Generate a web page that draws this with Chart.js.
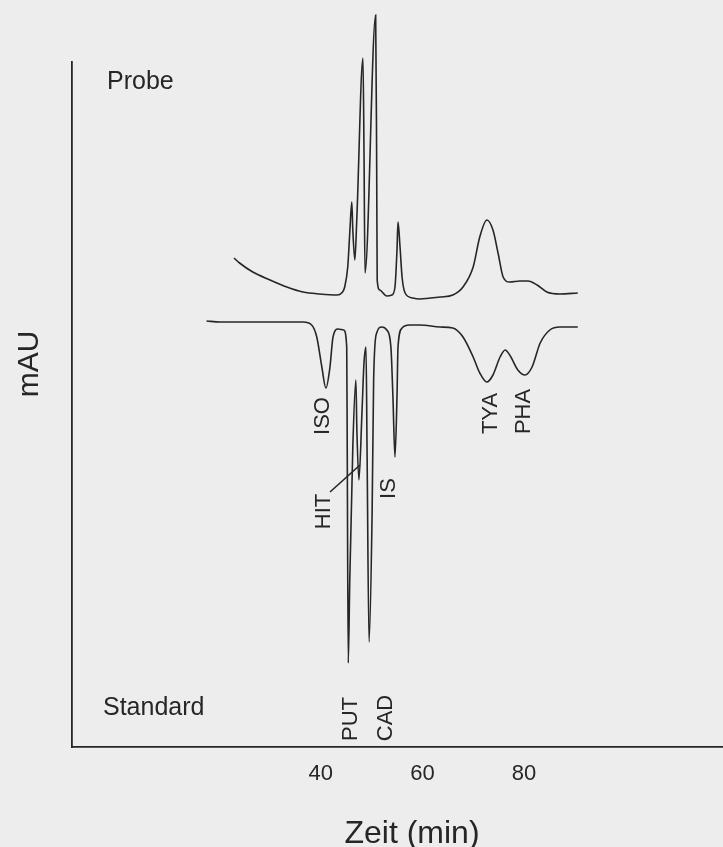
<!DOCTYPE html>
<html lang="de">
<head>
<meta charset="utf-8">
<title>Chromatogramm Probe / Standard</title>
<script src="https://cdn.jsdelivr.net/npm/chart.js@4.4.1/dist/chart.umd.min.js"></script>
<style>
  html, body { margin: 0; padding: 0; background: #ededed; }
  #grafico { display: block; }
</style>
</head>
<body>
<canvas id="grafico" width="723" height="847"></canvas>
<script>
const tiempoProbe = [22.9, 24.0, 26.6, 30.0, 33.3, 36.5, 39.8, 43.2, 44.1, 44.7, 45.3, 45.7, 46.1, 46.3, 46.7, 47.1, 48.3, 48.5, 48.7, 50.8, 51.0, 51.1, 51.6, 53.0, 54.0, 54.6, 55.0, 55.2, 55.6, 56.0, 56.6, 58.1, 59.5, 63.5, 66.0, 68.0, 70.0, 71.3, 72.7, 73.9, 74.9, 75.9, 77.2, 79.2, 80.8, 82.6, 84.5, 87.1, 90.6];
const valoresProbe = [97.8, 96.8, 95.0, 93.4, 92.0, 91.0, 90.6, 90.4, 90.8, 92.0, 96.0, 102.8, 109.0, 103.4, 97.4, 106.0, 137.8, 119.4, 94.8, 146.4, 116.0, 93.4, 91.4, 90.2, 90.4, 92.0, 99.4, 105.0, 100.0, 94.0, 90.8, 89.8, 89.6, 90.0, 90.4, 92.0, 96.0, 102.0, 105.4, 103.4, 98.8, 94.0, 93.0, 93.2, 93.2, 92.4, 91.0, 90.6, 90.8];

const tiempoStandard = [17.5, 20.1, 36.5, 38.2, 39.2, 40.2, 41.0, 41.8, 42.4, 43.4, 44.5, 45.1, 45.2, 45.4, 45.7, 46.3, 46.9, 47.1, 47.5, 48.1, 48.5, 48.9, 49.1, 49.5, 50.1, 50.4, 51.0, 52.0, 53.0, 53.8, 54.2, 54.6, 55.0, 55.2, 56.0, 57.5, 59.5, 63.5, 66.0, 68.0, 70.0, 71.3, 72.7, 73.9, 75.3, 76.3, 77.2, 78.8, 80.2, 81.6, 83.2, 85.1, 87.1, 90.6];
const valoresStandard = [85.2, 85.0, 85.0, 84.4, 82.0, 76.0, 71.8, 76.0, 82.0, 83.6, 83.4, 80.0, 60.0, 16.8, 33.4, 60.0, 73.4, 63.4, 53.4, 66.8, 76.8, 80.0, 60.0, 21.0, 46.8, 73.4, 82.8, 84.0, 83.4, 80.0, 70.0, 58.0, 70.0, 80.0, 83.8, 84.4, 84.4, 84.0, 83.8, 82.0, 78.0, 74.8, 73.0, 74.4, 78.0, 79.4, 78.4, 75.4, 74.4, 76.0, 80.8, 83.4, 84.0, 84.0];

const ticksTiempo = [40, 60, 80];
const nombresSeries = ['Probe', 'Standard'];
const nombresPicos = ['ISO', 'HIT', 'IS', 'PUT', 'CAD', 'TYA', 'PHA'];
const tituloX = 'Zeit (min)';
const tituloY = 'mAU';

const tinta = '#262626';
const fuente = '"Liberation Sans", Arial, Helvetica, sans-serif';

// Texto girado 90° (se lee de abajo hacia arriba)
function textoVertical(ctx, texto, x, y, size) {
  ctx.save();
  ctx.translate(x, y);
  ctx.rotate(-Math.PI / 2);
  ctx.font = `${size}px ${fuente}`;
  ctx.textAlign = 'center';
  ctx.textBaseline = 'middle';
  ctx.fillText(texto, 0, 0);
  ctx.restore();
}

// Rótulos del cromatograma (nombres de picos, series y ejes)
const rotulos = {
  id: 'rotulos',
  afterDraw(chart) {
    const ctx = chart.ctx;
    ctx.save();
    ctx.fillStyle = tinta;
    ctx.strokeStyle = tinta;

    const posPicos = [[323, 416], [323.5, 511.5], [389, 488.5], [351, 719], [386, 718], [491, 413.5], [523.5, 411.5]];
    nombresPicos.forEach((nombre, i) => {
      textoVertical(ctx, nombre, posPicos[i][0], posPicos[i][1], 22);
    });

    // línea de referencia de HIT
    ctx.lineWidth = 1.6;
    ctx.beginPath();
    ctx.moveTo(330, 492);
    ctx.lineTo(360, 465);
    ctx.stroke();

    ctx.font = `25px ${fuente}`;
    ctx.textAlign = 'left';
    ctx.textBaseline = 'alphabetic';
    ctx.fillText(nombresSeries[0], 107, 89);
    ctx.fillText(nombresSeries[1], 103, 715);

    ctx.font = `32px ${fuente}`;
    ctx.textAlign = 'center';
    ctx.fillText(tituloX, 412, 843);

    textoVertical(ctx, tituloY, 30, 364, 30);
    ctx.restore();
  }
};

const ctx = document.getElementById('grafico').getContext('2d');
const chart = new Chart(ctx, {
  type: 'line',
  data: {
    datasets: [
      {
        label: nombresSeries[0],
        data: tiempoProbe.map((t, i) => ({ x: t, y: valoresProbe[i] })),
        borderColor: tinta,
        borderWidth: 1.6,
        pointRadius: 0,
        cubicInterpolationMode: 'monotone',
        clip: false
      },
      {
        label: nombresSeries[1],
        data: tiempoStandard.map((t, i) => ({ x: t, y: valoresStandard[i] })),
        borderColor: tinta,
        borderWidth: 1.6,
        pointRadius: 0,
        cubicInterpolationMode: 'monotone',
        clip: false
      }
    ]
  },
  options: {
    responsive: false,
    animation: false,
    devicePixelRatio: 1,
    layout: { padding: { top: 62, left: 0, right: 0, bottom: 0 } },
    plugins: {
      legend: { display: false },
      tooltip: { enabled: false },
      title: { display: false }
    },
    scales: {
      x: {
        type: 'linear',
        min: -9,
        max: 119.2,
        afterBuildTicks: (scale) => {
          scale.ticks = ticksTiempo.map((v) => ({ value: v }));
        },
        afterFit: (scale) => { scale.height = 100; },
        grid: { display: false, drawTicks: false },
        border: { display: true, color: tinta, width: 1.8 },
        ticks: {
          color: tinta,
          padding: 14,
          maxRotation: 0,
          font: { family: fuente, size: 22 }
        }
      },
      y: {
        type: 'linear',
        min: 0,
        max: 137,
        afterFit: (scale) => { scale.width = 72; },
        grid: { display: false, drawTicks: false },
        border: { display: true, color: tinta, width: 1.8 },
        ticks: { display: false }
      }
    }
  },
  plugins: [rotulos]
});
</script>
</body>
</html>
